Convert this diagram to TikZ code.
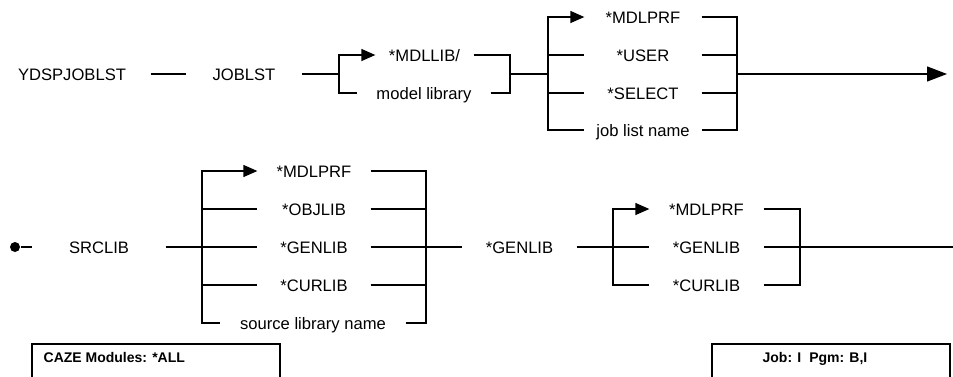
\documentclass[tikz,border=0pt]{standalone}
\usepackage{fontspec}
\setmainfont{Liberation Sans}
\usetikzlibrary{arrows.meta}

\begin{document}
\begin{tikzpicture}[x=1pt, y=-1pt, line width=1.3pt,
  every node/.style={font=\fontsize{16.6}{20}\selectfont},
  kw/.style={inner sep=0pt, minimum width=114pt, text height=12pt, text depth=0pt},
  tip/.style={-{Triangle[length=14pt, width=12pt]}},
  bigtip/.style={-{Triangle[length=20pt, width=15pt]}},
  panel/.style={line width=2pt},
  paneltext/.style={anchor=base west, inner sep=0pt, font=\fontsize{14}{16}\selectfont\bfseries}]
\useasboundingbox (0,0) rectangle (953,376);

% first line: YDSPJOBLST JOBLST
\node[kw, minimum width=156pt] (cmd) at (72,74) {YDSPJOBLST};
\node[kw] (joblst) at (244,74) {JOBLST};
\node[kw, minimum width=97pt] (mdllib) at (424.5,55) {*MDLLIB/};
\node[kw, minimum width=132pt] (modlib) at (424,93) {model library};
\node[kw, minimum width=116pt] (prf) at (643,17) {*MDLPRF};
\node[kw, minimum width=116pt] (user) at (643,55) {*USER};
\node[kw, minimum width=116pt] (select) at (643,93) {*SELECT};
\node[kw, minimum width=116pt] (jobname) at (643,130) {job list name};
\coordinate (a1) at (339,74);
\coordinate (a2) at (510,74);
\coordinate (a3) at (548,74);
\coordinate (a4) at (737,74);
\coordinate (a5) at (947,74);

\draw (cmd.east) -- (joblst.west);
\draw (joblst.east) -- (a1);
\draw[tip] (a1) |- (mdllib.west);
\draw (a1) |- (modlib.west);
\draw (mdllib.east) -| (a2);
\draw (modlib.east) -| (a2);
\draw (a2) -- (a3);
\draw[tip] (a3) |- (prf.west);
\foreach \n in {user,select,jobname}
  \draw (a3) |- (\n.west);
\foreach \n in {prf,user,select,jobname}
  \draw (\n.east) -| (a4);
\draw[bigtip] (a4) -- (a5);

% second line: SRCLIB
\node[circle, fill, inner sep=0pt, minimum size=10pt] (dot) at (15,247) {};
\node[kw, minimum width=132pt] (srclib) at (99,247) {SRCLIB};
\node[kw, minimum width=112pt] (prf2) at (314,171) {*MDLPRF};
\node[kw, minimum width=112pt] (objlib) at (314,209) {*OBJLIB};
\node[kw, minimum width=112pt] (gen2) at (314,247) {*GENLIB};
\node[kw, minimum width=112pt] (cur2) at (314,285) {*CURLIB};
\node[kw, minimum width=184pt] (srcname) at (313,323) {source library name};
\node[kw, minimum width=113pt] (genlib) at (519.5,247) {*GENLIB};
\node[kw, minimum width=113pt] (prf3) at (706.5,209) {*MDLPRF};
\node[kw, minimum width=113pt] (gen3) at (706.5,247) {*GENLIB};
\node[kw, minimum width=113pt] (cur3) at (706.5,285) {*CURLIB};
\coordinate (b1) at (202,247);
\coordinate (b2) at (426,247);
\coordinate (c1) at (613,247);
\coordinate (c2) at (800,247);
\coordinate (c3) at (953,247);

\draw (dot) -- (srclib.west);
\draw (srclib.east) -- (gen2.west);
\draw[tip] (b1) |- (prf2.west);
\foreach \n in {objlib,cur2,srcname}
  \draw (b1) |- (\n.west);
\foreach \n in {prf2,objlib,cur2,srcname}
  \draw (\n.east) -| (b2);
\draw (gen2.east) -- (genlib.west);
\draw (genlib.east) -- (gen3.west);
\draw[tip] (c1) |- (prf3.west);
\draw (c1) |- (cur3.west);
\draw (prf3.east) -| (c2);
\draw (cur3.east) -| (c2);
\draw (gen3.east) -- (c3);

% status panels
\draw[panel] (32,378) -- (32,344) -- (280,344) -- (280,378);
\node[paneltext] (modules) at (43,362) {CAZE Modules: *ALL};
\draw[panel] (712,378) -- (712,344) -- (950,344) -- (950,378);
\node[paneltext] (jobpgm) at (762,362) {Job: I\hspace{8pt}Pgm: B,I};
\end{tikzpicture}
\end{document}
